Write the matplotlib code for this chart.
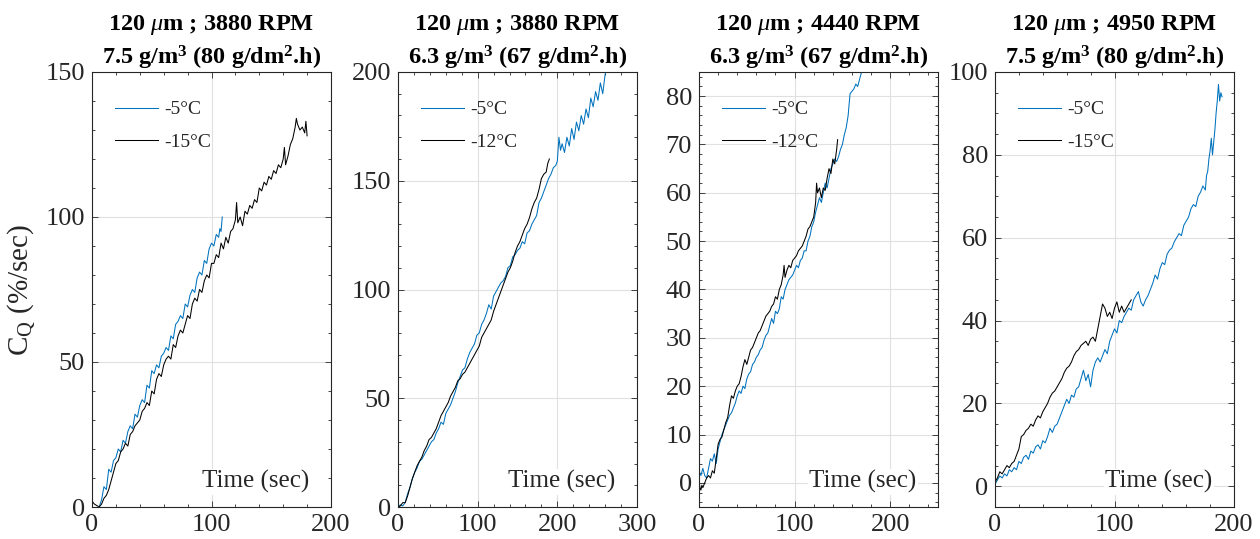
import numpy as np
import matplotlib
matplotlib.use("Agg")
import matplotlib.pyplot as plt
from matplotlib.ticker import MultipleLocator

plt.rcParams['font.family'] = ['Liberation Serif', 'DejaVu Serif']
plt.rcParams['mathtext.fontset'] = 'custom'
plt.rcParams['mathtext.rm'] = 'Liberation Serif'
plt.rcParams['mathtext.it'] = 'Liberation Serif:italic'
plt.rcParams['mathtext.bf'] = 'Liberation Serif:bold'

BLUE = '#0072BD'
DARK = '#262626'

# ---- panel 1 : 3880 RPM, 7.5 g/m3 ----
p1_blue_t = [6, 8, 10, 12, 14, 16, 18, 20, 22, 24, 26, 28, 30, 32, 34, 36, 38, 40, 42, 44,
             46, 48, 50, 52, 54, 56, 58, 60, 62, 64, 66, 68, 70, 72, 74, 76, 78, 80, 82, 84,
             86, 88, 90, 92, 94, 96, 98, 100, 102, 104, 106, 107, 108, 109]
p1_blue_y = [0, 2.5, 7, 6, 13, 12, 16, 17, 20, 19, 23, 22, 26, 28, 27, 32, 31, 35, 37, 36,
             42, 41, 47, 46, 49, 48, 52, 53, 55, 54, 59, 58, 63, 64, 66, 65, 70, 69, 73, 75,
             74, 79, 81, 80, 85, 84, 89, 91, 90, 94, 93, 96, 95, 100]
p1_black_t = [0, 2, 4, 6, 8, 10, 12, 14, 16, 18, 20, 22, 24, 26, 28, 30, 32, 34, 36, 38,
              40, 42, 44, 46, 48, 50, 52, 54, 56, 58, 60, 62, 64, 66, 68, 70, 72, 74, 76, 78,
              80, 82, 84, 86, 88, 90, 92, 94, 96, 98, 100, 102, 104, 106, 108, 110, 112, 114,
              116, 118, 120, 121, 122, 124, 126, 128, 130, 132, 134, 136, 138, 140, 142, 144,
              146, 148, 150, 152, 154, 156, 158, 160, 161, 162, 164, 166, 168, 170, 171, 172,
              174, 176, 178, 179, 180]
p1_black_y = [2, 1, 0.5, 0, 1, 3, 4, 6, 9, 12, 15, 16, 19, 20, 22, 21, 25, 26, 28, 29,
              30, 33, 34, 36, 35, 40, 39, 44, 46, 45, 49, 51, 52, 51, 56, 55, 59, 61, 60, 63,
              66, 65, 70, 72, 71, 75, 74, 78, 80, 79, 84, 84, 87, 86, 91, 89, 93, 91,
              95, 96, 99, 105, 98, 100, 97, 102, 101, 104, 103, 106, 105, 110, 109, 112,
              111, 114, 113, 116, 115, 118, 117, 120, 124, 118, 121, 125, 127, 131, 134, 132,
              130, 131, 129, 133, 128]

# ---- panel 2 : 3880 RPM, 6.3 g/m3 ----
p2_blue_t = [0, 3, 6, 9, 12, 15, 18, 21, 24, 27, 30, 33, 36, 39, 42, 45, 48, 51, 54, 57,
             60, 63, 66, 69, 72, 75, 78, 81, 84, 87, 90, 93, 96, 99, 102, 105, 108, 111, 114,
             117, 120, 123, 126, 129, 132, 135, 138, 141, 144, 147, 150, 153, 156, 159, 162,
             165, 168, 171, 174, 177, 180, 183, 186, 189, 192, 195, 198, 200, 202, 204, 206,
             209, 212, 215, 218, 221, 224, 227, 230, 233, 236, 239, 242, 245, 248, 251, 254,
             257, 260, 262]
p2_blue_y = [0, 1, 0.5, 2, 6, 9, 13, 16, 18, 21, 22, 24, 26, 28, 30, 31, 34, 36, 39, 38,
             43, 45, 47, 50, 53, 57, 60, 63, 64, 68, 71, 73, 75, 79, 80, 84, 86, 89, 93,
             91, 97, 99, 101, 103, 104, 106, 110, 111, 115, 116, 118, 119, 122, 121, 126,
             127, 130, 132, 134, 140, 142, 145, 148, 151, 153, 156, 157, 159, 170, 164, 167,
             163, 170, 166, 174, 169, 177, 173, 180, 176, 183, 179, 188, 184, 191, 187, 195,
             190, 199, 201]
p2_black_t = [0, 3, 6, 9, 12, 15, 18, 21, 24, 27, 30, 33, 36, 39, 42, 45, 48, 51, 54, 57,
              60, 63, 66, 69, 72, 75, 78, 81, 84, 87, 90, 93, 96, 99, 102, 105, 108, 111, 114,
              117, 120, 123, 126, 129, 132, 135, 138, 141, 144, 147, 150, 153, 156, 159, 162,
              165, 168, 171, 174, 177, 180, 183, 186, 188, 190]
p2_black_y = [0, 0.5, 2, 2, 5, 9, 13, 16, 19, 21, 23, 26, 28, 31, 32, 34, 36, 39, 42, 44,
              46, 48, 51, 53, 55, 58, 59, 61, 62, 64, 66, 68, 70, 72, 74, 78, 80, 82, 84,
              86, 90, 93, 96, 99, 102, 105, 108, 110, 113, 117, 120, 122, 125, 128, 130,
              133, 137, 140, 142, 146, 151, 153, 154, 158, 160]

# ---- panel 3 : 4440 RPM, 6.3 g/m3 ----
p3_blue_t = [0, 2, 4, 6, 8, 10, 12, 14, 16, 18, 20, 22, 24, 26, 28, 30, 32, 34, 36, 38,
             40, 42, 44, 46, 48, 50, 52, 54, 56, 58, 60, 62, 64, 66, 68, 70, 72, 74, 76, 78,
             80, 82, 84, 86, 88, 90, 92, 94, 96, 98, 100, 102, 104, 106, 108, 110, 112, 114,
             116, 118, 120, 122, 124, 126, 128, 130, 132, 134, 136, 138, 140, 142, 144, 146,
             148, 150, 152, 154, 156, 158, 160, 162, 164, 166, 168, 170, 171]
p3_blue_y = [2.5, 1.5, 3, 1.5, 1, 3, 5, 4.5, 6, 4, 7, 8.5, 10, 11, 12, 13, 14, 14.5, 15.5, 16.5,
             18, 19, 18.5, 20, 19.5, 21.5, 22.5, 23, 24.5, 25, 26, 26.5, 27.5, 28, 29.5, 30.5,
             31, 32.5, 34, 33, 35.5, 35, 36, 38.5, 38, 40, 41, 42, 42.5, 43, 44, 45, 44.5, 46,
             46.5, 48, 48, 50, 51, 53, 54, 56, 57.5, 59, 58, 60, 62, 61, 63, 65, 66, 67, 66.5,
             67.5, 69, 70, 72, 73.5, 76, 80.5, 81, 81.5, 82.5, 82, 83.5, 85, 86]
p3_black_t = [0, 1, 2, 3, 4, 6, 8, 10, 12, 14, 16, 18, 20, 22, 24, 26, 28, 30, 32, 34, 36,
              38, 40, 42, 44, 46, 48, 50, 52, 54, 56, 58, 60, 62, 64, 66, 68, 70, 72, 74, 76,
              78, 80, 82, 84, 86, 88, 89, 90, 92, 94, 96, 98, 100, 102, 104, 106, 108, 110,
              112, 114, 116, 118, 120, 122, 123, 124, 126, 128, 130, 132, 134, 136, 138, 140,
              142, 144, 145]
p3_black_y = [0.5, -1, -1.5, -0.5, -1, 0, 1, 1.5, 1, 2.5, 2, 5, 8, 9, 9.5, 11, 12.5, 13.5, 16,
              18, 17.5, 19, 20, 20.5, 22, 24, 25.5, 24.5, 26, 27.5, 28, 29, 30, 31, 31.5, 32.5,
              33.5, 34.5, 35, 35.5, 36.5, 37, 38.5, 38, 40, 41, 43, 45, 42.5, 44, 45, 44.5, 46,
              46.5, 47, 48, 48.5, 49, 50, 51, 52.5, 53, 54, 55, 58, 62, 60, 61, 59, 61, 60.5,
              63, 65, 64, 67, 66, 69, 71]

# ---- panel 4 : 4950 RPM, 7.5 g/m3 ----
p4_blue_t = [0, 2, 4, 6, 8, 10, 12, 14, 16, 18, 20, 22, 24, 26, 28, 30, 32, 34, 36, 38,
             40, 42, 44, 46, 48, 50, 52, 54, 56, 58, 60, 62, 64, 66, 68, 70, 72, 74, 76, 78,
             80, 82, 84, 86, 88, 90, 92, 94, 96, 98, 100, 102, 104, 106, 108, 110, 112, 114,
             116, 118, 120, 122, 124, 126, 128, 130, 132, 134, 136, 138, 140, 142, 144, 146,
             148, 150, 152, 154, 156, 158, 160, 162, 164, 166, 168, 170, 172, 174, 176, 177,
             178, 179, 180, 181, 182, 183, 184, 185, 186, 187, 188, 189, 190]
p4_blue_y = [0.5, 1.5, 2.5, 2, 3, 2.5, 4, 3.5, 4.5, 4, 6, 5.5, 7, 7.5, 6.5, 8.5, 8, 9.5, 10, 9,
             11, 10.5, 12, 14, 13, 14.5, 15, 16.5, 18, 19.5, 21, 20, 22, 21.5, 23.5, 24, 26, 28,
             25.5, 27, 24, 28, 30, 31, 30, 31.5, 33, 32, 35, 36.5, 38, 37, 40, 39.5, 41, 42, 43,
             42.5, 45, 46, 47, 44.5, 43.5, 45, 46, 47.5, 49, 51, 50, 52.5, 54, 53.5, 56, 57,
             57.5, 59, 60, 61, 60.5, 63, 64, 65, 67, 68, 67.5, 70, 71, 72.5, 71.5, 75,
             76, 79, 81, 84, 80, 83, 86, 90, 93, 97, 93, 95, 94]
p4_black_t = [0, 2, 4, 6, 8, 10, 12, 14, 16, 18, 20, 22, 24, 26, 28, 30, 32, 34, 36, 38,
              40, 42, 44, 46, 48, 50, 52, 54, 56, 58, 60, 62, 64, 66, 68, 70, 72, 74, 76, 78,
              80, 82, 84, 86, 88, 90, 92, 94, 96, 98, 100, 102, 104, 106, 108, 110, 112, 114]
p4_black_y = [1, 2, 3.5, 3, 4, 5, 4.5, 5.5, 6, 7.5, 9, 12, 12.5, 13.5, 14, 15, 14.5, 16, 17, 16.5,
              18, 19, 20, 21.5, 22.5, 23, 24, 25, 26, 27.5, 28.5, 29, 30, 31.5, 32.5, 33, 34, 34.5,
              35, 34, 35.5, 36, 35, 38, 41, 44, 43, 41, 42, 40.5, 43, 44.5, 42, 43.5, 42, 43, 44, 45]

titles = [
    "120 $\\mu$m ; 3880 RPM\n7.5 g/m$^\\mathbf{3}$ (80 g/dm$^\\mathbf{2}$.h)",
    "120 $\\mu$m ; 3880 RPM\n6.3 g/m$^\\mathbf{3}$ (67 g/dm$^\\mathbf{2}$.h)",
    "120 $\\mu$m ; 4440 RPM\n6.3 g/m$^\\mathbf{3}$ (67 g/dm$^\\mathbf{2}$.h)",
    "120 $\\mu$m ; 4950 RPM\n7.5 g/m$^\\mathbf{3}$ (80 g/dm$^\\mathbf{2}$.h)",
]
cold_labels = ["-15°C", "-12°C", "-12°C", "-15°C"]

panels = [
    (p1_blue_t, p1_blue_y, p1_black_t, p1_black_y),
    (p2_blue_t, p2_blue_y, p2_black_t, p2_black_y),
    (p3_blue_t, p3_blue_y, p3_black_t, p3_black_y),
    (p4_blue_t, p4_blue_y, p4_black_t, p4_black_y),
]
xlims = [(0, 200), (0, 300), (0, 250), (0, 200)]
ylims = [(0, 150), (0, 200), (-5, 85), (-5, 100)]
ymajor = [50, 50, 10, 20]
yminor = [10, 10, 2, 5]

fig = plt.figure(figsize=(12.6, 5.39), dpi=100)
lefts = [92, 398, 699, 995]

for i in range(4):
    ax = fig.add_axes([lefts[i] / 1260, 32 / 539, 239 / 1260, 435 / 539])
    bt, by, kt, ky = panels[i]
    ax.plot(bt, by, color=BLUE, lw=0.75, label="-5°C")
    ax.plot(kt, ky, color='black', lw=0.75, label=cold_labels[i])
    ax.set_xlim(*xlims[i])
    ax.set_ylim(*ylims[i])
    ax.xaxis.set_major_locator(MultipleLocator(100))
    ax.xaxis.set_minor_locator(MultipleLocator(20))
    ax.yaxis.set_major_locator(MultipleLocator(ymajor[i]))
    ax.yaxis.set_minor_locator(MultipleLocator(yminor[i]))
    ax.tick_params(which='both', direction='in', top=True, right=True,
                   colors=DARK, labelsize=19, width=0.6)
    ax.tick_params(which='major', length=4, pad=5)
    ax.tick_params(which='minor', length=2.5)
    ax.grid(True, which='major', color='#e0e0e0', lw=0.8)
    ax.set_axisbelow(True)
    for s in ax.spines.values():
        s.set_color(DARK)
        s.set_linewidth(0.8)
    ax.set_title(titles[i], fontsize=17.5, fontweight='bold', linespacing=1.32, pad=4)
    ax.legend(loc='upper left', frameon=False, fontsize=14, handlelength=2.2,
              handletextpad=0.3, labelspacing=0.75, borderaxespad=0.3,
              labelcolor=DARK, bbox_to_anchor=(0.04, 0.965))
    ax.text(0.91, 0.058, "Time (sec)", transform=ax.transAxes, ha='right', va='center',
            fontsize=18, color=DARK,
            bbox=dict(facecolor='white', edgecolor='none', pad=1))
    if i == 0:
        ax.set_ylabel("C$_\\mathrm{Q}$ (%/sec)", fontsize=21, color=DARK, labelpad=6)

fig.savefig("out.png", dpi=100)
